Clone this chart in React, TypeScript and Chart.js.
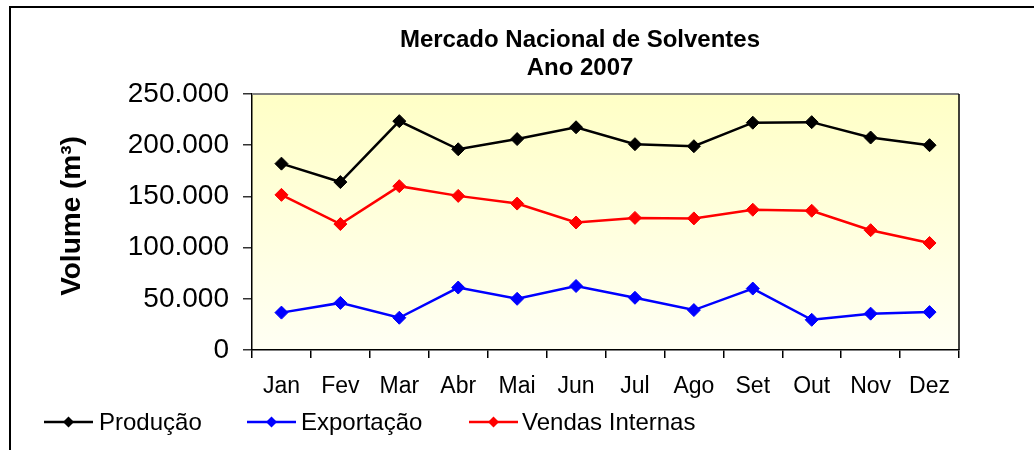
import React, { useEffect, useRef } from "react";
import { Chart, registerables } from "chart.js";

Chart.register(...registerables);

const months = ["Jan", "Fev", "Mar", "Abr", "Mai", "Jun", "Jul", "Ago", "Set", "Out", "Nov", "Dez"];
const producao = [182000, 164000, 223500, 196000, 206000, 217500, 201000, 199000, 222000, 222500, 207500, 200000];
const exportacao = [36500, 46000, 31500, 61000, 50000, 62500, 51000, 39000, 60000, 29500, 35500, 37000];
const vendasInternas = [151500, 123000, 160000, 150500, 143000, 124500, 129000, 128500, 137000, 136000, 117000, 104500];
const titleLines = ["Mercado Nacional de Solventes", "Ano 2007"];
const yTitle = "Volume (m³)";
const seriesNames = ["Produção", "Exportação", "Vendas Internas"];
const seriesColors = ["#000000", "#0000FF", "#FF0000"];

const FONT = "'Liberation Sans', Arial, sans-serif";

const fmt = (v: number) => String(v).replace(/\B(?=(\d{3})+(?!\d))/g, ".");

const decorPlugin = {
  id: "decor",
  beforeDraw(chart: any) {
    const { ctx, chartArea: a } = chart;
    ctx.save();
    ctx.fillStyle = "#ffffff";
    ctx.fillRect(0, 0, chart.width, chart.height);
    const g = ctx.createLinearGradient(0, a.top, 0, a.bottom);
    g.addColorStop(0, "#FFFFC6");
    g.addColorStop(1, "#FFFFF4");
    ctx.fillStyle = g;
    ctx.fillRect(a.left, a.top, a.right - a.left, a.bottom - a.top);
    ctx.restore();
  },
  afterDraw(chart: any) {
    const { ctx, chartArea: a } = chart;
    ctx.save();
    // outer frame
    ctx.strokeStyle = "#000";
    ctx.lineWidth = 2;
    ctx.beginPath();
    ctx.moveTo(10, chart.height);
    ctx.lineTo(10, 7);
    ctx.lineTo(chart.width, 7);
    ctx.stroke();
    // plot area top & right borders
    ctx.lineWidth = 2;
    ctx.strokeStyle = "#808080";
    ctx.beginPath();
    ctx.moveTo(a.left, a.top);
    ctx.lineTo(a.right, a.top);
    ctx.stroke();
    ctx.strokeStyle = "#000";
    ctx.lineWidth = 1.5;
    ctx.beginPath();
    ctx.moveTo(a.right, a.top);
    ctx.lineTo(a.right, a.bottom);
    ctx.stroke();
    // title
    ctx.fillStyle = "#000";
    ctx.textAlign = "center";
    ctx.textBaseline = "middle";
    ctx.font = `bold 24px ${FONT}`;
    ctx.fillText(titleLines[0], 580, 40);
    ctx.fillText(titleLines[1], 580, 68);
    // y title
    ctx.save();
    ctx.translate(72, 216);
    ctx.rotate(-Math.PI / 2);
    ctx.font = `bold 28px ${FONT}`;
    ctx.fillText(yTitle, 0, 0);
    ctx.restore();
    // legend
    const items = [
      { x0: 44, x1: 93, tx: 99 },
      { x0: 247, x1: 296, tx: 301 },
      { x0: 469, x1: 518, tx: 522 },
    ];
    const ly = 422;
    ctx.font = `24px ${FONT}`;
    ctx.textAlign = "left";
    items.forEach((it, i) => {
      ctx.strokeStyle = seriesColors[i];
      ctx.fillStyle = seriesColors[i];
      ctx.lineWidth = 2.5;
      ctx.beginPath();
      ctx.moveTo(it.x0, ly);
      ctx.lineTo(it.x1, ly);
      ctx.stroke();
      const cx = (it.x0 + it.x1) / 2;
      const r = 5.5;
      ctx.beginPath();
      ctx.moveTo(cx, ly - r);
      ctx.lineTo(cx + r, ly);
      ctx.lineTo(cx, ly + r);
      ctx.lineTo(cx - r, ly);
      ctx.closePath();
      ctx.fill();
      ctx.fillStyle = "#000";
      ctx.fillText(seriesNames[i], it.tx, ly + 1);
    });
    ctx.restore();
  },
};

export default function App() {
  const ref = useRef<HTMLCanvasElement>(null);
  useEffect(() => {
    if (!ref.current) return;
    const series = [producao, exportacao, vendasInternas];
    const chart = new Chart(ref.current, {
      type: "line",
      data: {
        labels: months,
        datasets: series.map((d, i) => ({
          label: seriesNames[i],
          data: d,
          borderColor: seriesColors[i],
          backgroundColor: seriesColors[i],
          borderWidth: 2.5,
          pointStyle: "rectRot",
          pointRadius: 6.5,
          pointBorderWidth: 1,
          pointBackgroundColor: seriesColors[i],
          pointBorderColor: seriesColors[i],
          tension: 0,
          fill: false,
        })),
      },
      options: {
        responsive: false,
        animation: false,
        layout: { padding: { top: 94, right: 75, left: 0, bottom: 0 } },
        plugins: {
          legend: { display: false },
          title: { display: false },
          tooltip: { enabled: false },
        },
        scales: {
          x: {
            offset: true,
            grid: {
              offset: true,
              drawOnChartArea: false,
              drawTicks: true,
              tickLength: 8,
              color: "#000",
              lineWidth: 1.5,
            },
            border: { display: true, color: "#000", width: 1.5 },
            ticks: {
              color: "#000",
              font: { family: FONT, size: 23 },
              padding: 15,
              maxRotation: 0,
              autoSkip: false,
            },
            afterFit(scale: any) {
              scale.height = 100;
            },
          },
          y: {
            min: 0,
            max: 250000,
            grid: {
              drawOnChartArea: false,
              drawTicks: true,
              tickLength: 9,
              color: "#333",
              lineWidth: 1.5,
            },
            border: { display: true, color: "#000", width: 1.5 },
            ticks: {
              stepSize: 50000,
              color: "#000",
              font: { family: FONT, size: 28 },
              padding: 14,
              callback: (v: any) => fmt(Number(v)),
            },
            afterFit(scale: any) {
              scale.width = 252;
            },
          },
        },
      },
      plugins: [decorPlugin],
    });
    return () => chart.destroy();
  }, []);
  return (
    <div style={{ position: "fixed", left: 0, top: 0, width: 1034, height: 450, background: "#fff" }}>
      <canvas ref={ref} width={1034} height={450} style={{ display: "block" }} />
    </div>
  );
}
